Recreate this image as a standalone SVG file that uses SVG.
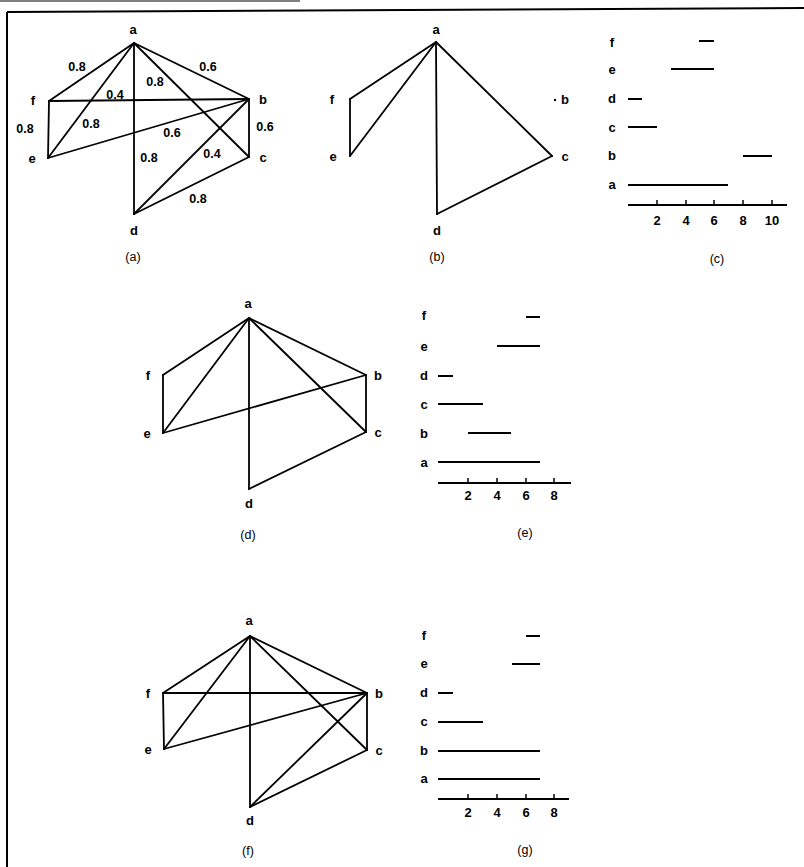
<svg xmlns="http://www.w3.org/2000/svg" width="804" height="867" viewBox="0 0 804 867">
<style>
.e{stroke:#000;stroke-width:1.8;fill:none;stroke-linecap:round}
.bar{stroke:#000;stroke-width:2;fill:none}
.ax{stroke:#000;stroke-width:1.8;fill:none}
.tk{stroke:#000;stroke-width:1.5}
text{font-family:"Liberation Sans",Arial,sans-serif;font-weight:bold;font-size:13px;fill:#000;text-anchor:middle;dominant-baseline:central}
.w{font-size:12.5px}
.cap{font-size:12.5px;font-weight:normal}
.frame{stroke:#000;stroke-width:2;fill:none}
</style>
<rect width="804" height="867" fill="#fff"/>
<g id="frame">
<line x1="0" y1="1" x2="300" y2="1" stroke="#555" stroke-width="1.5"/>
<line class="frame" x1="7" y1="12" x2="804" y2="8"/>
<line class="frame" x1="7" y1="12" x2="7" y2="867"/>
</g>
<g id="connectors">
<g id="edges-a">
<line class="e" x1="134" y1="43" x2="49" y2="101"/>
<line class="e" x1="134" y1="43" x2="48" y2="158"/>
<line class="e" x1="134" y1="43" x2="134" y2="214"/>
<line class="e" x1="134" y1="43" x2="249" y2="157"/>
<line class="e" x1="134" y1="43" x2="249" y2="99"/>
<line class="e" x1="49" y1="101" x2="249" y2="99"/>
<line class="e" x1="49" y1="101" x2="48" y2="158"/>
<line class="e" x1="48" y1="158" x2="249" y2="99"/>
<line class="e" x1="249" y1="99" x2="249" y2="157"/>
<line class="e" x1="249" y1="99" x2="134" y2="214"/>
<line class="e" x1="249" y1="157" x2="134" y2="214"/>
</g>
<g id="edges-b">
<line class="e" x1="436" y1="42" x2="350" y2="99"/>
<line class="e" x1="350" y1="99" x2="350" y2="156"/>
<line class="e" x1="350" y1="156" x2="436" y2="42"/>
<line class="e" x1="436" y1="42" x2="437" y2="214"/>
<line class="e" x1="436" y1="42" x2="552" y2="156"/>
<line class="e" x1="552" y1="156" x2="437" y2="214"/>
</g>
<g id="edges-d">
<line class="e" x1="249" y1="318" x2="163" y2="375"/>
<line class="e" x1="249" y1="318" x2="163" y2="433"/>
<line class="e" x1="249" y1="318" x2="249" y2="489"/>
<line class="e" x1="249" y1="318" x2="366" y2="432"/>
<line class="e" x1="249" y1="318" x2="366" y2="375"/>
<line class="e" x1="163" y1="375" x2="163" y2="433"/>
<line class="e" x1="163" y1="433" x2="366" y2="375"/>
<line class="e" x1="366" y1="375" x2="366" y2="432"/>
<line class="e" x1="366" y1="432" x2="249" y2="489"/>
</g>
<g id="edges-f">
<line class="e" x1="250" y1="636" x2="163" y2="693"/>
<line class="e" x1="250" y1="636" x2="164" y2="749"/>
<line class="e" x1="250" y1="636" x2="250" y2="807"/>
<line class="e" x1="250" y1="636" x2="367" y2="750"/>
<line class="e" x1="250" y1="636" x2="367" y2="693"/>
<line class="e" x1="163" y1="693" x2="367" y2="693"/>
<line class="e" x1="163" y1="693" x2="164" y2="749"/>
<line class="e" x1="164" y1="749" x2="367" y2="693"/>
<line class="e" x1="367" y1="693" x2="367" y2="750"/>
<line class="e" x1="367" y1="693" x2="250" y2="807"/>
<line class="e" x1="367" y1="750" x2="250" y2="807"/>
</g>
</g>
<g id="graph-a">
<g id="a-a"><text x="133" y="29">a</text></g>
<g id="a-f"><text x="33" y="100">f</text></g>
<g id="a-b"><text x="263" y="99">b</text></g>
<g id="a-e"><text x="32" y="158">e</text></g>
<g id="a-c"><text x="263" y="157">c</text></g>
<g id="a-d"><text x="134" y="230">d</text></g>
<g id="a-weights">
<text class="w" x="77" y="67">0.8</text>
<text class="w" x="208" y="67">0.6</text>
<text class="w" x="155" y="82">0.8</text>
<text class="w" x="115" y="95">0.4</text>
<text class="w" x="91" y="124">0.8</text>
<text class="w" x="25" y="129">0.8</text>
<text class="w" x="172" y="133">0.6</text>
<text class="w" x="265" y="127">0.6</text>
<text class="w" x="149" y="158">0.8</text>
<text class="w" x="212" y="154">0.4</text>
<text class="w" x="198" y="199">0.8</text>
</g>
<text class="cap" x="133" y="257">(a)</text>
</g>
<g id="graph-b">
<g id="b-a"><text x="436" y="29">a</text></g>
<g id="b-f"><text x="332" y="99">f</text></g>
<g id="b-e"><text x="333" y="156">e</text></g>
<g id="b-b"><circle cx="555" cy="100" r="1.2" fill="#000"/><text x="565" y="99">b</text></g>
<g id="b-c"><text x="565" y="156">c</text></g>
<g id="b-d"><text x="437" y="230">d</text></g>
<text class="cap" x="437" y="257">(b)</text>
</g>
<g id="chart-c">
<text x="612" y="42">f</text>
<text x="612" y="69">e</text>
<text x="612" y="98">d</text>
<text x="612" y="127">c</text>
<text x="612" y="155">b</text>
<text x="612" y="184">a</text>
<line class="bar" x1="699" y1="41" x2="714" y2="41"/>
<line class="bar" x1="671" y1="69" x2="714" y2="69"/>
<line class="bar" x1="628" y1="99" x2="642" y2="99"/>
<line class="bar" x1="628" y1="127" x2="657" y2="127"/>
<line class="bar" x1="743" y1="156" x2="772" y2="156"/>
<line class="bar" x1="628" y1="185" x2="728" y2="185"/>
<line class="ax" x1="628" y1="205" x2="787" y2="205"/>
<line class="tk" x1="657" y1="200" x2="657" y2="205"/>
<line class="tk" x1="686" y1="200" x2="686" y2="205"/>
<line class="tk" x1="714" y1="200" x2="714" y2="205"/>
<line class="tk" x1="743" y1="200" x2="743" y2="205"/>
<line class="tk" x1="772" y1="200" x2="772" y2="205"/>
<text x="657" y="220">2</text>
<text x="686" y="220">4</text>
<text x="714" y="220">6</text>
<text x="743" y="220">8</text>
<text x="772" y="220">10</text>
<text class="cap" x="717" y="259">(c)</text>
</g>
<g id="graph-d">
<g id="d-a"><text x="248" y="303">a</text></g>
<g id="d-f"><text x="148" y="375">f</text></g>
<g id="d-e"><text x="147" y="433">e</text></g>
<g id="d-b"><text x="378" y="375">b</text></g>
<g id="d-c"><text x="378" y="432">c</text></g>
<g id="d-d"><text x="249" y="503">d</text></g>
<text class="cap" x="248" y="535">(d)</text>
</g>
<g id="chart-e">
<text x="424" y="315">f</text>
<text x="424" y="346">e</text>
<text x="424" y="375">d</text>
<text x="424" y="404">c</text>
<text x="424" y="433">b</text>
<text x="424" y="462">a</text>
<line class="bar" x1="526" y1="317" x2="540" y2="317"/>
<line class="bar" x1="497" y1="346" x2="540" y2="346"/>
<line class="bar" x1="438" y1="376" x2="453" y2="376"/>
<line class="bar" x1="438" y1="404" x2="483" y2="404"/>
<line class="bar" x1="468" y1="433" x2="511" y2="433"/>
<line class="bar" x1="438" y1="462" x2="540" y2="462"/>
<line class="ax" x1="438" y1="483" x2="571" y2="483"/>
<line class="tk" x1="468" y1="478" x2="468" y2="483"/>
<line class="tk" x1="497" y1="478" x2="497" y2="483"/>
<line class="tk" x1="526" y1="478" x2="526" y2="483"/>
<line class="tk" x1="554" y1="478" x2="554" y2="483"/>
<text x="468" y="495">2</text>
<text x="497" y="495">4</text>
<text x="526" y="495">6</text>
<text x="554" y="495">8</text>
<text class="cap" x="525" y="533">(e)</text>
</g>
<g id="graph-f">
<g id="f-a"><text x="249" y="620">a</text></g>
<g id="f-f"><text x="148" y="693">f</text></g>
<g id="f-b"><text x="379" y="693">b</text></g>
<g id="f-e"><text x="148" y="749">e</text></g>
<g id="f-c"><text x="379" y="750">c</text></g>
<g id="f-d"><text x="250" y="820">d</text></g>
<text class="cap" x="248" y="851">(f)</text>
</g>
<g id="chart-g">
<text x="424" y="635">f</text>
<text x="424" y="663">e</text>
<text x="424" y="692">d</text>
<text x="424" y="721">c</text>
<text x="424" y="750">b</text>
<text x="424" y="778">a</text>
<line class="bar" x1="526" y1="636" x2="540" y2="636"/>
<line class="bar" x1="512" y1="664" x2="540" y2="664"/>
<line class="bar" x1="438" y1="693" x2="453" y2="693"/>
<line class="bar" x1="438" y1="722" x2="483" y2="722"/>
<line class="bar" x1="438" y1="751" x2="540" y2="751"/>
<line class="bar" x1="438" y1="779" x2="540" y2="779"/>
<line class="ax" x1="438" y1="799" x2="569" y2="799"/>
<line class="tk" x1="468" y1="794" x2="468" y2="799"/>
<line class="tk" x1="497" y1="794" x2="497" y2="799"/>
<line class="tk" x1="526" y1="794" x2="526" y2="799"/>
<line class="tk" x1="554" y1="794" x2="554" y2="799"/>
<text x="468" y="812">2</text>
<text x="497" y="812">4</text>
<text x="526" y="812">6</text>
<text x="554" y="812">8</text>
<text class="cap" x="525" y="850">(g)</text>
</g>
</svg>
